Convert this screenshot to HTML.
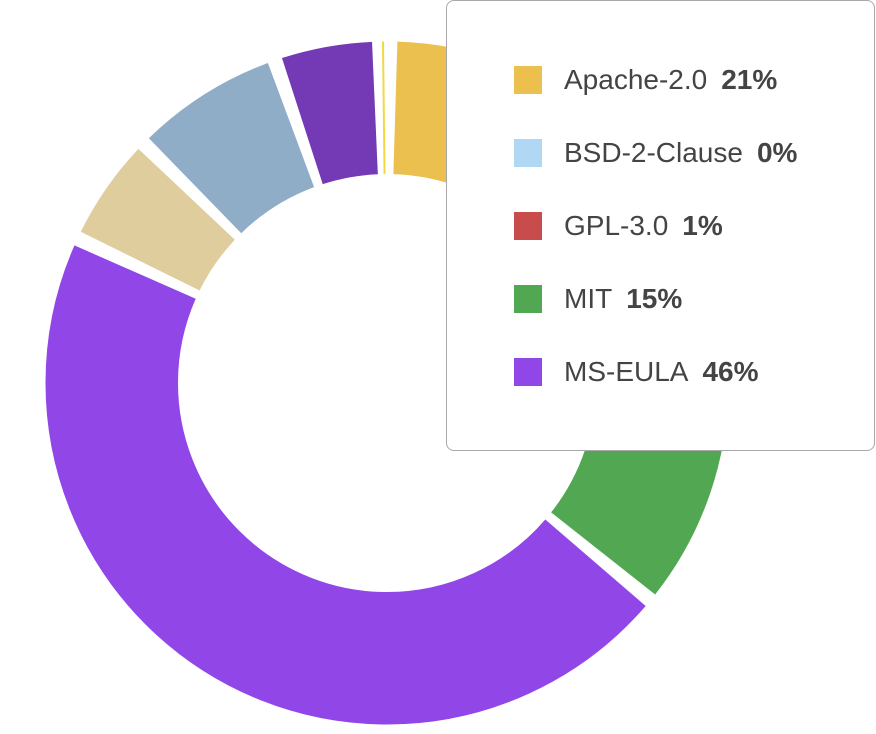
<!DOCTYPE html>
<html><head><meta charset="utf-8"><style>
html,body{margin:0;padding:0;background:#fff;width:876px;height:734px;overflow:hidden;font-family:"Liberation Sans","DejaVu Sans",sans-serif;}
svg{position:absolute;left:0;top:0}
.leg{position:absolute;left:446px;top:0;width:429px;height:451px;border:1px solid #a8a8a8;border-radius:8px;background:#fff;box-sizing:border-box}
.it{position:absolute;left:67px;height:28px;font-size:28px;color:#444;line-height:28px;white-space:nowrap}
.sw{display:inline-block;width:28px;height:28px;vertical-align:top;margin-right:22px}
b{margin-left:14px}
</style></head><body>
<svg width="876" height="734" viewBox="0 0 876 734">
<g transform="translate(387,383) rotate(-90)" fill="none" stroke-width="132.5">
<circle r="275.25" stroke="#ecc04e" stroke-dasharray="331 2000" stroke-dashoffset="-8.4"/>
<circle r="275.25" stroke="#c94c4c" stroke-dasharray="7 2000" stroke-dashoffset="-354.3"/>
<circle r="275.25" stroke="#52a852" stroke-dasharray="245 2000" stroke-dashoffset="-371.1"/>
<circle r="275.25" stroke="#9146e8" stroke-dasharray="783 2000" stroke-dashoffset="-628.1"/>
<circle r="275.25" stroke="#dfcd9e" stroke-dasharray="81.7 2000" stroke-dashoffset="-1423.2"/>
<circle r="275.25" stroke="#8fadc6" stroke-dasharray="114.3 2000" stroke-dashoffset="-1516.9"/>
<circle r="275.25" stroke="#7439b5" stroke-dasharray="74 2000" stroke-dashoffset="-1643.2"/>
<circle r="275.25" stroke="#f5d840" stroke-dasharray="2 2000" stroke-dashoffset="-1725"/>
</g>
</svg>
<div class="leg">
<div class="it" style="top:65px"><span class="sw" style="background:#ecc04e"></span>Apache-2.0<b>21%</b></div>
<div class="it" style="top:138px"><span class="sw" style="background:#b0d8f5"></span>BSD-2-Clause<b>0%</b></div>
<div class="it" style="top:211px"><span class="sw" style="background:#c94c4c"></span>GPL-3.0<b>1%</b></div>
<div class="it" style="top:284px"><span class="sw" style="background:#52a852"></span>MIT<b>15%</b></div>
<div class="it" style="top:357px"><span class="sw" style="background:#9146e8"></span>MS-EULA<b>46%</b></div>
</div>
</body></html>
